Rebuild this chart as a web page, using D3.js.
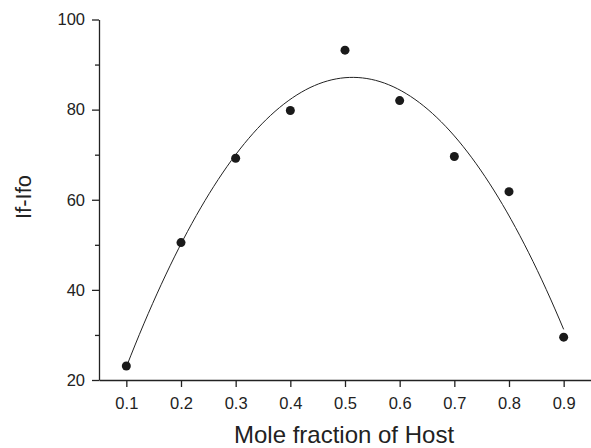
<!DOCTYPE html>
<html>
<head>
<meta charset="utf-8">
<script src="https://cdn.jsdelivr.net/npm/d3@7"></script>
<style>
  body { margin: 0; background: #fff; }
  text { font-family: "Liberation Sans", Arial, sans-serif; fill: #222; }
</style>
</head>
<body>
<div id="chart"></div>
<script>
// measured values
var moleFraction = [0.1, 0.2, 0.3, 0.4, 0.5, 0.6, 0.7, 0.8, 0.9];
var intensity = [23.1, 50.5, 69.2, 79.8, 93.2, 82.0, 69.6, 61.8, 29.5];
var xTicks = [0.1, 0.2, 0.3, 0.4, 0.5, 0.6, 0.7, 0.8, 0.9];
var yTicks = [20, 40, 60, 80, 100];
var yMinorTicks = [30, 50, 70, 90];

var width = 591, height = 448;
var margin = {top: 19.5, right: 0, bottom: 68, left: 99};

var svg = d3.select("#chart").append("svg")
    .attr("width", width)
    .attr("height", height);

var x = d3.scaleLinear().domain([0.05, 0.95]).range([margin.left, width - margin.right]);
var y = d3.scaleLinear().domain([20, 100]).range([height - margin.bottom, margin.top]);

// quadratic least squares fit (same as the fitted curve in the original)
function quadFit(xs, ys) {
    var n = xs.length, s = [0, 0, 0, 0, 0], t = [0, 0, 0];
    for (var i = 0; i < n; i++) {
        var p = 1;
        for (var k = 0; k < 5; k++) { s[k] += p; if (k < 3) t[k] += p * ys[i]; p *= xs[i]; }
    }
    var m = [[s[0], s[1], s[2], t[0]], [s[1], s[2], s[3], t[1]], [s[2], s[3], s[4], t[2]]];
    for (var c = 0; c < 3; c++) {
        for (var r = c + 1; r < 3; r++) {
            var f = m[r][c] / m[c][c];
            for (var j = c; j < 4; j++) m[r][j] -= f * m[c][j];
        }
    }
    var coef = [0, 0, 0];
    for (var r = 2; r >= 0; r--) {
        var v = m[r][3];
        for (var j = r + 1; j < 3; j++) v -= m[r][j] * coef[j];
        coef[r] = v / m[r][r];
    }
    return function(xv) { return coef[0] + coef[1] * xv + coef[2] * xv * xv; };
}
var fit = quadFit(moleFraction, intensity);
var fitX = d3.range(0, 101).map(function(i) { return 0.1 + i * 0.008; });

// axes
var gx = svg.append("g")
    .attr("transform", "translate(0," + y(20) + ")")
    .call(d3.axisBottom(x).tickValues(xTicks).tickSize(7).tickPadding(10).tickSizeOuter(0)
        .tickFormat(d3.format(".1f")));

var gy = svg.append("g")
    .attr("transform", "translate(" + x(0.05) + ",0)")
    .call(d3.axisLeft(y).tickValues(yTicks).tickSize(7).tickPadding(7).tickSizeOuter(0));

svg.append("g")
    .attr("transform", "translate(" + x(0.05) + ",0)")
    .call(d3.axisLeft(y).tickValues(yMinorTicks).tickSize(4).tickFormat("").tickSizeOuter(0))
    .select(".domain").remove();

svg.selectAll("g").attr("font-size", 16.5).attr("font-family", null);
svg.selectAll(".domain, .tick line").attr("stroke", "#222").attr("stroke-width", 1.3);
svg.selectAll(".tick text").attr("fill", "#222");

// fitted curve
svg.append("path")
    .datum(fitX)
    .attr("fill", "none")
    .attr("stroke", "#222")
    .attr("stroke-width", 1)
    .attr("d", d3.line().x(function(d) { return x(d); }).y(function(d) { return y(fit(d)); }));

// points
svg.selectAll("circle")
    .data(moleFraction)
    .enter().append("circle")
    .attr("cx", function(d) { return x(d); })
    .attr("cy", function(d, i) { return y(intensity[i]); })
    .attr("r", 4.5)
    .attr("fill", "#1a1a1a");

// titles
svg.append("text")
    .attr("x", 344)
    .attr("y", 443)
    .attr("text-anchor", "middle")
    .style("font-size", "24px")
    .text("Mole fraction of Host");

svg.append("text")
    .attr("transform", "translate(31,197) rotate(-90)")
    .attr("text-anchor", "middle")
    .style("font-size", "22px")
    .text("If-Ifo");
</script>
</body>
</html>
